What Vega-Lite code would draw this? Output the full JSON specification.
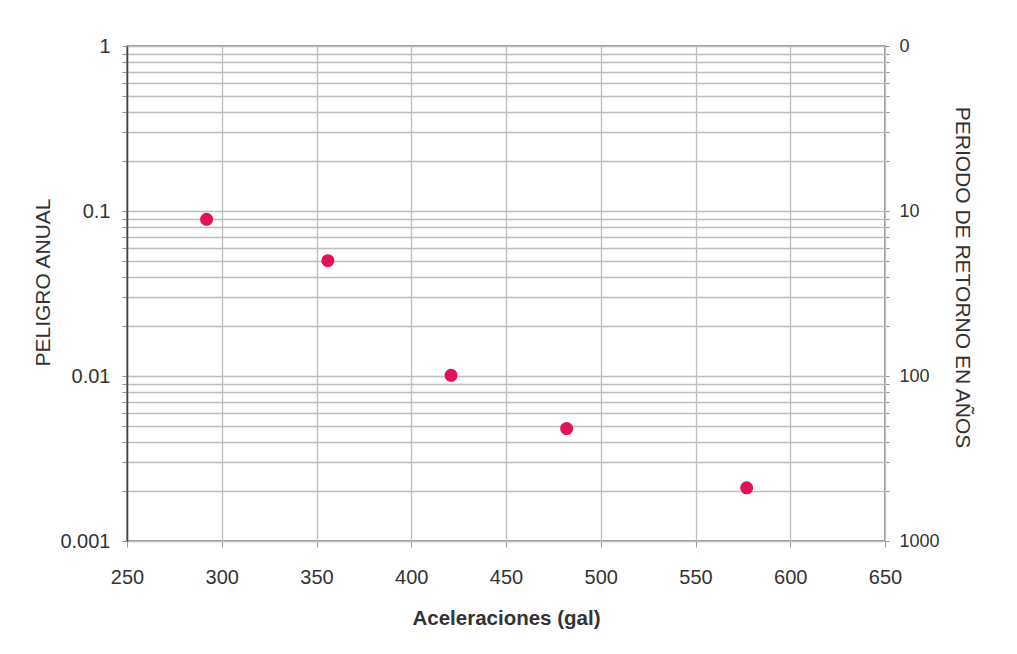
{
  "$schema": "https://vega.github.io/schema/vega-lite/v6.json",
  "autosize": "none",
  "width": 758,
  "height": 495,
  "padding": {"left": 127, "top": 46, "right": 132, "bottom": 113},
  "background": "white",
  "config": {
    "font": "Liberation Sans",
    "view": {"stroke": "#7a7a7a", "strokeWidth": 1.5},
    "axis": {
      "labelFont": "Liberation Sans",
      "titleFont": "Liberation Sans",
      "labelColor": "#333333",
      "titleColor": "#333333",
      "labelFontSize": 20,
      "titleFontSize": 19,
      "titleFontWeight": "normal",
      "tickColor": "#999999",
      "tickSize": 6,
      "gridColor": "#bdbdbd",
      "gridWidth": 1.3,
      "domainColor": "#555555",
      "domainWidth": 1.5
    }
  },
  "data": {
    "values": [
      {"acel": 292, "peligro": 0.089},
      {"acel": 356, "peligro": 0.05},
      {"acel": 421, "peligro": 0.0101},
      {"acel": 482, "peligro": 0.0048},
      {"acel": 577, "peligro": 0.0021}
    ]
  },
  "layer": [
    {
      "mark": {"type": "point", "filled": true, "size": 170, "color": "#e3105a", "opacity": 1},
      "encoding": {
        "x": {
          "field": "acel",
          "type": "quantitative",
          "scale": {"domain": [250, 650], "nice": false, "zero": false},
          "axis": {
            "title": "Aceleraciones (gal)",
            "titleFontWeight": "bold",
            "titleFontSize": 20.5,
            "titlePadding": 21,
            "values": [250, 300, 350, 400, 450, 500, 550, 600, 650],
            "labelFlush": false,
            "labelPadding": 20,
            "domain": false
          }
        },
        "y": {
          "field": "peligro",
          "type": "quantitative",
          "scale": {"type": "log", "domain": [0.001, 1], "nice": false},
          "axis": {
            "orient": "left",
            "title": "PELIGRO  ANUAL",
            "titleFontSize": 21,
            "titlePadding": 6,
            "titleY": 236,
            "values": [0.001, 0.002, 0.003, 0.004, 0.005, 0.006, 0.007, 0.008, 0.009, 0.01, 0.02, 0.03, 0.04, 0.05, 0.06, 0.07, 0.08, 0.09, 0.1, 0.2, 0.3, 0.4, 0.5, 0.6, 0.7, 0.8, 0.9, 1],
            "format": "~g",
            "labelExpr": "indexof([1, 0.1, 0.01, 0.001], datum.value) >= 0 ? datum.label : ''",
            "labelPadding": 12,
            "tickSize": 5,
            "domainColor": "#444444"
          }
        }
      }
    },
    {
      "mark": {"type": "point", "opacity": 0},
      "encoding": {
        "x": {
          "field": "acel",
          "type": "quantitative",
          "scale": {"domain": [250, 650], "nice": false, "zero": false}
        },
        "y": {
          "field": "peligro",
          "type": "quantitative",
          "scale": {"type": "log", "domain": [0.001, 1], "nice": false},
          "axis": {
            "orient": "right",
            "title": "PERIODO DE RETORNO EN AÑOS",
            "titleFontSize": 21,
            "titlePadding": 12,
            "titleY": 231,
            "grid": false,
            "values": [0.001, 0.002, 0.003, 0.004, 0.005, 0.006, 0.007, 0.008, 0.009, 0.01, 0.02, 0.03, 0.04, 0.05, 0.06, 0.07, 0.08, 0.09, 0.1, 0.2, 0.3, 0.4, 0.5, 0.6, 0.7, 0.8, 0.9, 1],
            "labelExpr": "datum.value == 1 ? '0' : (indexof([0.1, 0.01, 0.001], datum.value) >= 0 ? format(1 / datum.value, 'd') : '')",
            "labelFontSize": 18,
            "labelPadding": 10,
            "tickSize": 4,
            "domain": false
          }
        }
      }
    }
  ],
  "resolve": {"scale": {"y": "independent"}}
}
